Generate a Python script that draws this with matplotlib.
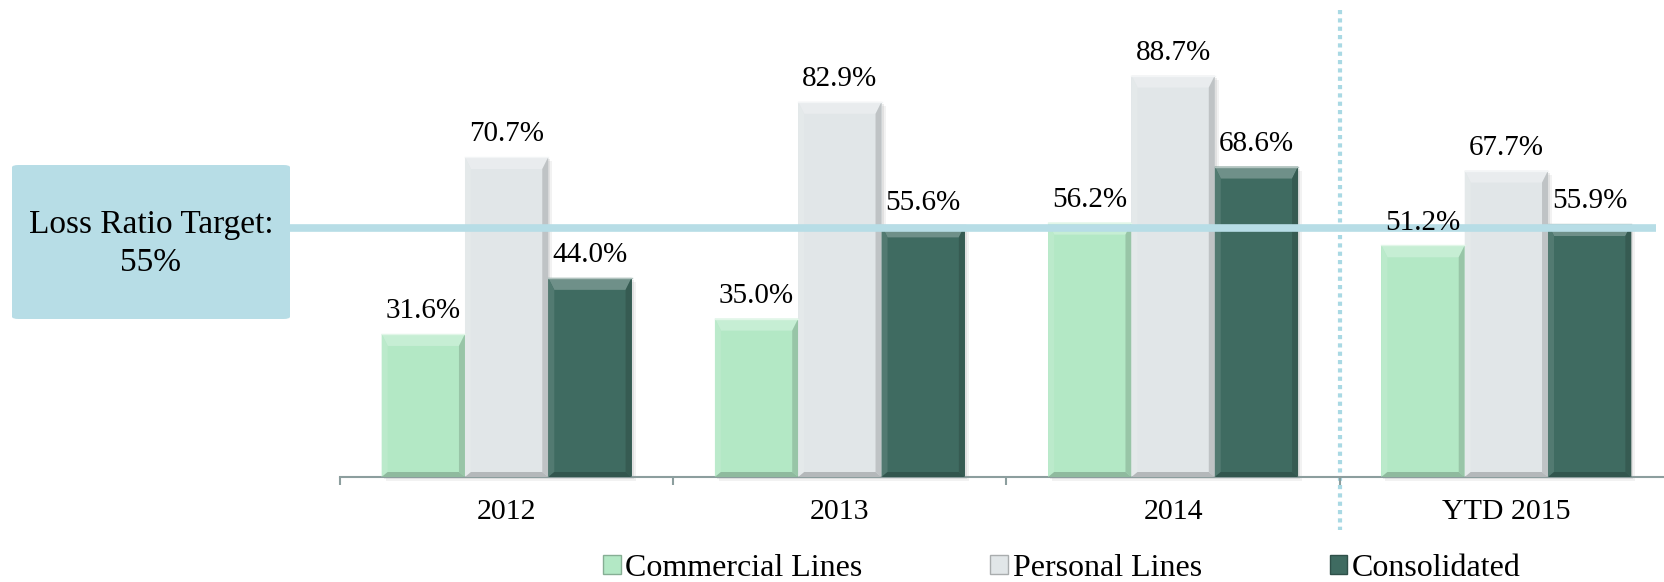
import matplotlib.pyplot as plt
import matplotlib.colors as mcolors
from matplotlib.patches import Polygon, Rectangle, FancyBboxPatch
import numpy as np

# Loss ratio by line of business
categories = ['2012', '2013', '2014', 'YTD 2015']
series_names = ['Commercial Lines', 'Personal Lines', 'Consolidated']
commercial = [31.6, 35.0, 56.2, 51.2]
personal = [70.7, 82.9, 88.7, 67.7]
consolidated = [44.0, 55.6, 68.6, 55.9]
target = 55.0
target_label = 'Loss Ratio Target:\n55%'

series_values = [commercial, personal, consolidated]
series_colors = ['#B3E8C5', '#E1E6E8', '#3F6B61']

plt.rcParams['font.family'] = ['Liberation Serif', 'DejaVu Serif']

W, H, DPI = 1665, 582, 100
fig = plt.figure(figsize=(W / DPI, H / DPI), dpi=DPI)
fig.patch.set_facecolor('white')

# axes: baseline 477 px from top, category slots 333 px wide starting at x=340
base_px = 477
ax = fig.add_axes([340 / W, (H - base_px) / H, 1333 / W, base_px / H])
ymax = 105.4
ax.set_xlim(-0.5, 3.5)
ax.set_ylim(0, ymax)

px_x = 4.0 / 1333   # data units per pixel horizontally
px_y = ymax / base_px


def shade(color, amount):
    """amount > 0 lightens toward white, < 0 darkens toward black."""
    c = np.array(mcolors.to_rgb(color))
    if amount >= 0:
        return tuple(c + (1 - c) * amount)
    return tuple(c * (1 + amount))


def bevel_bar(ax, xc, width, height, color):
    x0, x1 = xc - width / 2, xc + width / 2
    s = 6 * px_x
    t = 12 * px_y
    b = 5 * px_y
    # soft drop shadow
    for k, a in ((4, 0.10), (2, 0.15)):
        ax.add_patch(Rectangle((x0 + k * px_x, -k * px_y), width, height,
                               facecolor='#808080', alpha=a, edgecolor='none',
                               zorder=1, clip_on=False))
    ax.add_patch(Rectangle((x0, 0), width, height, facecolor=color,
                           edgecolor='none', zorder=2))
    # bevel facets
    ax.add_patch(Polygon([(x0, height), (x1, height), (x1 - s, height - t),
                          (x0 + s, height - t)], closed=True,
                         facecolor=shade(color, 0.25), edgecolor='none', zorder=3))
    ax.add_patch(Polygon([(x0, height), (x0 + s, height - t), (x0 + s, b),
                          (x0, 0)], closed=True,
                         facecolor=shade(color, 0.10), edgecolor='none', zorder=3))
    ax.add_patch(Polygon([(x1, height), (x1 - s, height - t), (x1 - s, b),
                          (x1, 0)], closed=True,
                         facecolor=shade(color, -0.15), edgecolor='none', zorder=3))
    ax.add_patch(Polygon([(x0, 0), (x0 + s, b), (x1 - s, b), (x1, 0)],
                         closed=True, facecolor=shade(color, -0.20),
                         edgecolor='none', zorder=3))
    ax.plot([x0, x1], [height, height], color=shade(color, 0.6), lw=1, zorder=4)


x = np.arange(len(categories))
bar_w = 0.25
offsets = [-bar_w, 0, bar_w]
for vals, off, col in zip(series_values, offsets, series_colors):
    for xi, v in zip(x, vals):
        bevel_bar(ax, xi + off, bar_w, v, col)
        ax.annotate(f'{v:.1f}%', (xi + off, v), xytext=(0, 7),
                    textcoords='offset points', ha='center', va='bottom',
                    fontsize=21, color='black', zorder=6)

# axis styling
for side in ('top', 'right', 'left'):
    ax.spines[side].set_visible(False)
axis_gray = '#8C9E9E'
ax.spines['bottom'].set_color(axis_gray)
ax.spines['bottom'].set_linewidth(1.5)
ax.set_yticks([])
ax.set_xticks(np.arange(-0.5, 3.6, 1.0))
ax.set_xticklabels([])
ax.tick_params(axis='x', which='major', direction='out', length=6,
               width=1.5, color=axis_gray)
ax.set_xticks(x, minor=True)
ax.set_xticklabels(categories, minor=True, fontsize=21.5)
ax.tick_params(axis='x', which='minor', length=0, pad=16)

# separator before year-to-date column
ax.plot([2.5, 2.5], [(base_px - 10) * px_y, -(530 - base_px) * px_y],
        color='#A9D9E4', lw=3, linestyle=(0, (1, 1)), clip_on=False, zorder=0)

# target line and callout box
box_right_px = 290
x_start = (box_right_px - 340) * px_x - 0.5
ax.plot([x_start, 3.45], [target, target], color='#B7DDE6', lw=5.5,
        solid_capstyle='butt', clip_on=False, zorder=5)

box = FancyBboxPatch((12 / W, 1 - 319 / H), (box_right_px - 12) / W, 154 / H,
                     boxstyle='round,pad=0,rounding_size=0.004',
                     transform=fig.transFigure, facecolor='#B7DDE6',
                     edgecolor='none', zorder=5)
fig.patches.append(box)
fig.text(151 / W, 1 - 244 / H, target_label, ha='center', va='center',
         fontsize=24, linespacing=1.3, zorder=6)

# legend
handles = [Rectangle((0, 0), 1, 1, facecolor=c, edgecolor=shade(c, -0.25), lw=1)
           for c in series_colors]
fig.legend(handles, series_names, loc='center', ncol=3,
           bbox_to_anchor=(1062 / W, 1 - 568 / H), bbox_transform=fig.transFigure,
           frameon=False, fontsize=23, handlelength=0.55, handleheight=0.55,
           handletextpad=0.15, columnspacing=4.0, borderpad=0, borderaxespad=0)

fig.savefig('out.png', dpi=DPI, facecolor='white')
